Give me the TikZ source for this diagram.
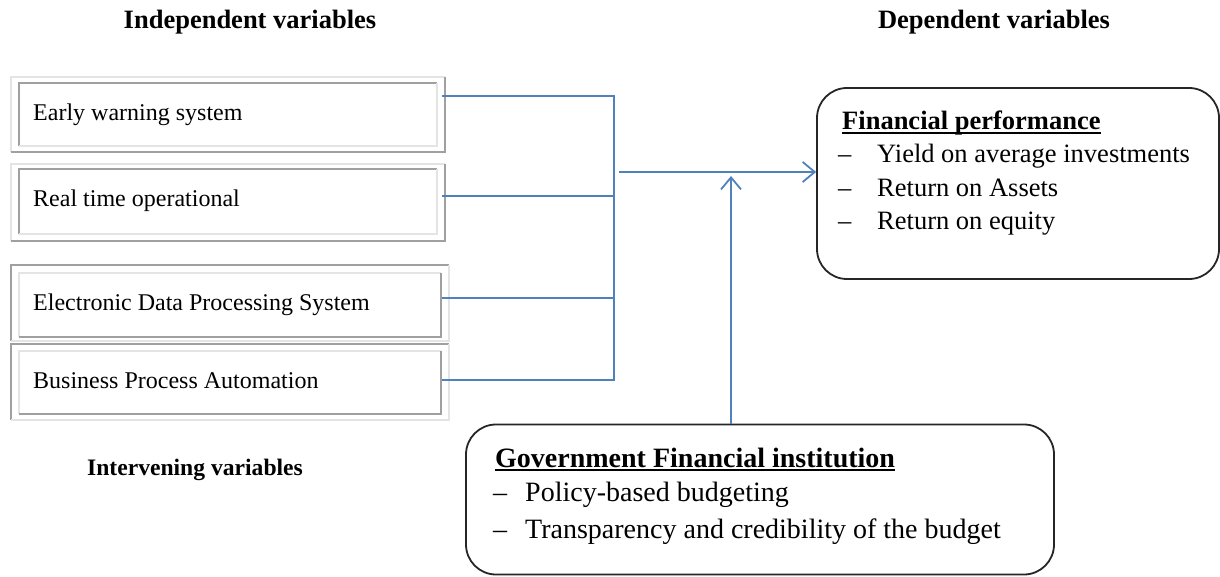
\documentclass[tikz,border=0pt]{standalone}
\usepackage{fontspec}
\setmainfont{Liberation Serif}
\usetikzlibrary{arrows.meta,calc}
\definecolor{linkblue}{HTML}{4F81BD}
\definecolor{bevdark}{HTML}{A0A0A0}
\definecolor{bevlight}{HTML}{E4E4E4}

% bevelled frame around a named node: top/left edges in #2, bottom/right in #3
\newcommand{\nodebevel}[3]{%
  \draw[#2] (#1.south west) -- (#1.north west) -- (#1.north east);
  \draw[#3] (#1.north east) -- (#1.south east) -- (#1.south west);}
% bevelled frame from corner coordinates x1,y1,x2,y2
\newcommand{\rectbevel}[6]{%
  \draw[#5] (#1,#4) -- (#1,#2) -- (#3,#2);
  \draw[#6] (#3,#2) -- (#3,#4) -- (#1,#4);}

\begin{document}
\begin{tikzpicture}[x=1pt,y=-1pt,
  txt/.style={inner sep=0pt, anchor=base west},
  head/.style={inner sep=0pt, anchor=base, font=\bfseries\fontsize{26.5}{30}\selectfont},
  celltext/.style={txt, font=\fontsize{24}{28}\selectfont},
  cell/.style={draw=none, inner sep=0pt},
  dk/.style={draw=bevdark, line width=2pt},
  lt/.style={draw=bevlight, line width=2pt},
  conn/.style={draw=linkblue, line width=1.8pt},
  flow/.style={conn, -{Straight Barb[length=12pt,width=20pt,line width=1.8pt]}},
  roundbox/.style={draw=black!85, line width=1.8pt, rounded corners=30pt, inner sep=0pt},
  ul/.style={line width=1.5pt}]

\useasboundingbox (0,0) rectangle (1220,577);

% column headings
\node[head] (hind) at (250,29) {Independent variables};
\node[head] (hdep) at (994,29) {Dependent variables};
\node[head, font=\bfseries\fontsize{23.6}{28}\selectfont] (hint) at (195,475) {Intervening variables};

% left-hand cells
\node[cell, minimum width=418pt, minimum height=63pt] (ews) at (228,114.5) {};
\node[cell, minimum width=418pt, minimum height=65pt] (rto) at (228,201.5) {};
\node[cell, minimum width=422pt, minimum height=64pt] (edp) at (230,305) {};
\node[cell, minimum width=422pt, minimum height=63pt] (bpa) at (230,382.5) {};

\rectbevel{11}{77}{445}{152}{lt}{dk}
\nodebevel{ews}{dk}{lt}
\rectbevel{11}{164}{445}{241}{lt}{dk}
\nodebevel{rto}{dk}{lt}
\rectbevel{11}{265}{449}{341}{dk}{lt}
\nodebevel{edp}{lt}{dk}
\rectbevel{11}{344}{449}{420}{dk}{lt}
\nodebevel{bpa}{lt}{dk}

\node[celltext] (ewst) at (33,121) {Early warning system};
\node[celltext] (rtot) at (33,207) {Real time operational};
\node[celltext] (edpt) at (33,310) {Electronic Data Processing System};
\node[celltext] (bpat) at (33,388) {Business Process Automation};

% outcome and moderating boxes
\node[roundbox, minimum width=402pt, minimum height=191pt] (fin) at (1018,183.5) {};
\node[roundbox, minimum width=588pt, minimum height=150pt] (gov) at (760,499.5) {};

\node[txt, font=\bfseries\fontsize{26.5}{30}\selectfont] (fint) at (842,130) {Financial performance};
\draw[ul] ([yshift=-3pt]fint.base west) -- ([yshift=-3pt]fint.base east);
\node[txt, font=\fontsize{26.5}{30}\selectfont] (fin1) at (838,163) {\makebox[39pt][l]{–}Yield on average investments};
\node[txt, font=\fontsize{26.5}{30}\selectfont] (fin2) at (838,197) {\makebox[39pt][l]{–}Return on Assets};
\node[txt, font=\fontsize{26.5}{30}\selectfont] (fin3) at (838,230) {\makebox[39pt][l]{–}Return on equity};

\node[txt, font=\bfseries\fontsize{28}{32}\selectfont] (govt) at (495,467) {Government Financial institution};
\draw[ul] ([yshift=-3pt]govt.base west) -- ([yshift=-3pt]govt.base east);
\node[txt, font=\fontsize{28}{32}\selectfont] (gov1) at (493,501) {\makebox[32pt][l]{–}Policy-based budgeting};
\node[txt, font=\fontsize{28}{32}\selectfont] (gov2) at (493,538) {\makebox[32pt][l]{–}Transparency and credibility of the budget};

% connectors
\coordinate (bustop) at (614,96);
\coordinate (j2) at (614,196);
\coordinate (j3) at (614,298);
\coordinate (busbot) at (614,380);
\draw[conn] ($(ews.east |- bustop)+(5,0)$) -- (bustop) -- (busbot) -- ($(bpa.east |- busbot)+(1,0)$);
\draw[conn] ($(rto.east |- j2)+(5,0)$) -- (j2);
\draw[conn] ($(edp.east |- j3)+(1,0)$) -- (j3);

\coordinate (merge) at (619,172);
\draw[flow] (merge) -- (fin.west |- merge);
\coordinate (vtip) at (731,176);
\draw[flow] (gov.north -| vtip) -- (vtip);
\end{tikzpicture}
\end{document}
